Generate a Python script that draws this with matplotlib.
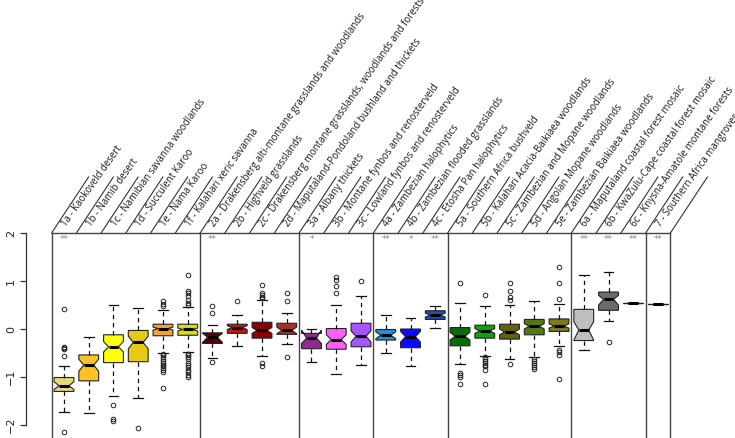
import matplotlib
matplotlib.use("Agg")
import matplotlib.pyplot as plt
from matplotlib.lines import Line2D

labels = ["1a - Kaokoveld desert", "1b - Namib desert", "1c - Namibian savanna woodlands",
          "1d - Succulent Karoo", "1e - Nama Karoo", "1f - Kalahari xeric savanna",
          "2a - Drakensberg alti-montane grasslands and woodlands", "2b - Highveld grasslands",
          "2c - Drakensberg montane grasslands, woodlands and forests",
          "2d - Maputaland-Pondoland bushland and thickets", "3a - Albany thickets",
          "3b - Montane fynbos and renosterveld", "3c - Lowland fynbos and renosterveld",
          "4a - Zambezian halophytics", "4b - Zambezian flooded grasslands",
          "4c - Etosha Pan halophytics", "5a - Southern Africa bushveld",
          "5b - Kalahari Acacia-Baikiaea woodlands", "5c - Zambezian and Mopane woodlands",
          "5d - Angolan Mopane woodlands", "5e - Zambezian Baikiaea woodlands",
          "6a - Maputaland coastal forest mosaic", "6b - KwaZulu-Cape coastal forest mosaic",
          "6c - Knysna-Amatole montane forests", "7 - Southern Africa mangroves"]
groups = [1, 1, 1, 1, 1, 1, 2, 2, 2, 2, 3, 3, 3, 4, 4, 4, 5, 5, 5, 5, 5, 6, 6, 6, 7]
signif = ["**", "", "", "", "", "", "**", "", "", "", "*", "", "", "**", "*", "**",
          "", "", "", "", "", "**", "**", "**", "**"]
colors = ["#E3DA7C", "#FFC125", "#FFFF0A", "#E8C914", "#F2A533", "#DCDC10",
          "#580008", "#C41414", "#8B0000", "#A33228",
          "#8F2A8F", "#FF5EF7", "#A855FF",
          "#1E90D8", "#0A0AFF", "#1E4DB5",
          "#0B6B0B", "#12A012", "#63600F", "#527A12", "#807A1A",
          "#BEBEBE", "#6B6B6B", "#505050", "#505050"]

q1 = [-1.30, -1.08, -0.70, -0.68, -0.14, -0.13, -0.30, -0.09, -0.19, -0.11, -0.41, -0.42, -0.37,
      -0.23, -0.39, 0.20, -0.35, -0.19, -0.21, -0.12, -0.05, -0.24, 0.39, 0.535, 0.515]
med = [-1.18, -0.75, -0.37, -0.28, 0.01, -0.01, -0.17, 0.03, -0.03, -0.03, -0.19, -0.22, -0.15,
       -0.13, -0.16, 0.29, -0.15, -0.04, -0.06, 0.06, 0.06, -0.02, 0.62, 0.54, 0.52]
q3 = [-1.01, -0.54, -0.12, -0.03, 0.10, 0.10, -0.08, 0.10, 0.14, 0.12, -0.09, 0.01, 0.12,
      -0.01, 0.00, 0.38, 0.03, 0.08, 0.10, 0.20, 0.21, 0.41, 0.77, 0.545, 0.525]
ci_lo = [-1.26, -0.88, -0.48, -0.41, -0.02, -0.04, -0.28, -0.01, -0.09, -0.10, -0.30, -0.32, -0.27,
         -0.20, -0.27, 0.25, -0.23, -0.09, -0.12, 0.00, 0.02, -0.23, 0.50, 0.54, 0.52]
ci_hi = [-1.10, -0.63, -0.26, -0.15, 0.04, 0.02, -0.09, 0.07, 0.03, 0.04, -0.02, -0.12, -0.04,
         -0.06, -0.05, 0.33, -0.07, 0.01, 0.00, 0.11, 0.11, 0.15, 0.70, 0.54, 0.52]
whis_lo = [-1.72, -1.74, -1.39, -1.44, -0.49, -0.48, -0.60, -0.35, -0.57, -0.31, -0.69, -0.93, -0.75,
           -0.50, -0.77, 0.03, -0.73, -0.57, -0.63, -0.59, -0.35, -0.44, 0.17, 0.535, 0.515]
whis_hi = [-0.77, -0.16, 0.51, 0.44, 0.39, 0.45, 0.08, 0.29, 0.60, 0.33, 0.01, 0.50, 0.69,
           0.29, 0.23, 0.48, 0.55, 0.47, 0.51, 0.58, 0.52, 1.12, 1.18, 0.545, 0.525]
fliers = [
    [0.41, -0.38, -0.40, -0.42, -0.57, -2.15],
    [],
    [-1.59, -1.87, -1.92],
    [-2.07],
    [0.59, 0.53, 0.48, -0.52, -0.55, -0.58, -0.62, -0.66, -0.70, -0.74, -0.78, -0.82, -0.86, -0.90, -1.23],
    [1.13, 0.79, 0.74, 0.68, 0.60, 0.55, 0.50, -0.52, -0.55, -0.58, -0.63, -0.70, -0.74, -0.80,
     -0.86, -0.90, -0.95, -1.00],
    [0.48, 0.33, -0.68],
    [0.59],
    [0.91, 0.75, 0.71, 0.67, 0.64, -0.71, -0.77],
    [0.75, 0.59, -0.59],
    [],
    [1.09, 1.02, 0.90, 0.74],
    [1.00],
    [],
    [],
    [],
    [0.95, -0.92, -0.95, -0.99, -1.15],
    [0.71, -0.59, -0.63, -0.66, -0.70, -0.74, -0.78, -0.85, -1.15],
    [0.96, 0.80, 0.66, 0.60, -0.73],
    [-0.63, -0.67, -0.71, -0.75, -0.79, -0.83],
    [1.29, 0.95, 0.62, -0.44, -0.48, -0.54, -1.04],
    [],
    [-0.26],
    [],
    [],
]

W, H, DPI = 7.35, 4.38, 100
PT = 72.0 / DPI  # points per pixel
fig = plt.figure(figsize=(W, H), dpi=DPI)
n = len(labels)
px_w = W * DPI
px_h = H * DPI
ax = fig.add_axes([51.6 / px_w, 0.0, (670.4 - 51.6) / px_w, 205 / px_h])

stats = []
for i in range(n):
    stats.append(dict(med=med[i], q1=q1[i], q3=q3[i], cilo=ci_lo[i], cihi=ci_hi[i],
                      whislo=whis_lo[i], whishi=whis_hi[i], fliers=fliers[i], label=labels[i]))
positions = list(range(1, n + 1))
bp = ax.bxp(stats, positions=positions, widths=0.8, capwidths=0.4, shownotches=True,
            patch_artist=True,
            boxprops=dict(edgecolor="#222222", linewidth=0.8),
            whiskerprops=dict(color="#111111", linewidth=0.9, linestyle=(0, (3.5, 3))),
            capprops=dict(color="#111111", linewidth=0.9),
            medianprops=dict(color="black", linewidth=2.2, solid_capstyle="butt"),
            flierprops=dict(marker="o", markersize=3.3, markerfacecolor="none",
                            markeredgecolor="#222222", markeredgewidth=0.7))
for patch, c in zip(bp["boxes"], colors):
    patch.set_facecolor(c)

ax.set_xlim(0.5, n + 0.5)
ax.set_ylim(-2.27, 2.0)
ax.set_xticks([])
for s in ["bottom", "right", "top"]:
    ax.spines[s].set_visible(False)
ax.spines["left"].set_position(("outward", 25.6 * PT))
ax.spines["left"].set_bounds(-2, 2)
ax.spines["left"].set_linewidth(0.9)
ax.spines["left"].set_color("#333333")
ax.set_yticks([-2, -1, 0, 1, 2])
ax.set_yticklabels(["\u22122", "\u22121", "0", "1", "2"])
ax.tick_params(axis="y", length=6 * PT, width=0.9, color="#333333", labelsize=8,
               labelrotation=90, pad=9 * PT, labelcolor="#222222")
for t in ax.get_yticklabels():
    t.set_verticalalignment("center")
    t.set_horizontalalignment("center")

# plot frame and group separators
bounds_grp = [0.5] + [i + 1.5 for i in range(n - 1) if groups[i] != groups[i + 1]] + [n + 0.5]
for b in bounds_grp:
    ax.axvline(b, color="#444444", linewidth=1.0, clip_on=False)
ax.axhline(2.0, color="#444444", linewidth=1.0, clip_on=False)

# significance stars
for i, s in enumerate(signif):
    if s:
        ax.text(positions[i], 1.86, s, ha="center", va="center", fontsize=6.5, color="#888888")

fig.canvas.draw()
trans = ax.get_xaxis_transform()
# slanted separators
for k in range(n + 1):
    x0, y0 = trans.transform((k + 0.5, 1.0))
    fig.add_artist(Line2D([x0, x0 + 37], [y0, y0 + 56], transform=None,
                          color="#333333", linewidth=0.8, clip_on=False))
# rotated labels
for i, lab in enumerate(labels):
    ax.annotate(lab, xy=(positions[i], 1.0), xycoords=trans, xytext=(0.0, 5.3),
                textcoords="offset points", rotation=54.5, rotation_mode="anchor",
                ha="left", va="center", fontsize=6.9, color="#1a1a1a",
                family="Open Sans", annotation_clip=False)

fig.savefig("out.png", dpi=DPI)
